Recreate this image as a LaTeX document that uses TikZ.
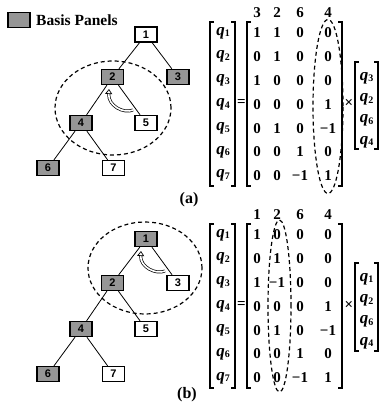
\documentclass[tikz,border=0pt]{standalone}
\usepackage{fontspec}
\setmainfont{Liberation Serif}
\setsansfont{Liberation Sans}
\usetikzlibrary{arrows.meta}
\definecolor{basisgray}{RGB}{150,150,150}

% bold italic q with an upright bold index
\newcommand{\qsym}[1]{{\fontsize{17}{17}\selectfont\bfseries\itshape q}\raisebox{-0.35ex}{\fontsize{10}{10}\selectfont\bfseries #1}}

\tikzset{
  panel/.style={draw, line width=1.3pt, minimum width=22pt, minimum height=15pt,
    inner sep=0pt, font=\sffamily\bfseries\fontsize{11}{11}\selectfont},
  basis/.style={panel, fill=basisgray},
  plain/.style={panel, fill=white},
  edge/.style={line width=0.8pt},
  group/.style={line width=1.2pt, dash pattern=on 4pt off 3pt},
  entry/.style={inner sep=0pt, font=\bfseries\fontsize{15}{15}\selectfont},
  qent/.style={inner sep=0pt},
  label/.style={inner sep=0pt, font=\bfseries\fontsize{16}{16}\selectfont},
  brk/.style={line width=1.4pt},
  turn/.style={line width=0.7pt, double=white, double distance=1.6pt,
    -{Triangle[open, length=5pt, width=7pt]}}
}

% a pair of square brackets: left x, right x, top y, bottom y
\newcommand{\sqbrackets}[4]{%
  \draw[brk] (#1+4,#3) -- (#1,#3) -- (#1,#4) -- (#1+4,#4);
  \draw[brk] (#2-4,#3) -- (#2,#3) -- (#2,#4) -- (#2-4,#4);}

% one row of a 7x4 matrix: prefix, row, y, four entries
\newcommand{\mrow}[7]{%
  \node[entry] (#1-#2-1) at (257,#3) {#4};
  \node[entry] (#1-#2-2) at (277,#3) {#5};
  \node[entry] (#1-#2-3) at (300,#3) {#6};
  \node[entry] (#1-#2-4) at (328,#3) {#7};}

\begin{document}
\begin{tikzpicture}[x=1pt, y=-1pt]
\useasboundingbox (0,0) rectangle (381,409);

% legend
\node[basis] (key) at (19,20) {};
\node[anchor=west, inner sep=0pt, font=\bfseries\fontsize{15.5}{15.5}\selectfont] (keytext) at (36,20) {Basis Panels};

% ---------------- (a) tree ----------------
\draw[group] (113,108) ellipse [x radius=58pt, y radius=47pt];
\node[plain] (a1) at (146,34.5) {1};
\node[basis] (a2) at (112.5,77) {2};
\node[basis] (a3) at (178,77) {3};
\node[basis] (a4) at (81,123) {4};
\node[plain] (a5) at (146,123) {5};
\node[basis] (a6) at (48,168) {6};
\node[plain] (a7) at (113.5,168) {7};
\draw[edge] (a1) -- (a2);
\draw[edge] (a1) -- (a3);
\draw[edge] (a2) -- (a4);
\draw[edge] (a2) -- (a5);
\draw[edge] (a4) -- (a6);
\draw[edge] (a4) -- (a7);
\coordinate (ta) at (133,110);
\coordinate (ha) at (109,89);
\draw[turn] (ta) .. controls (124,114) and (108,106) .. (ha);
\node[label] (capa) at (189,200) {(a)};

% ---------------- (a) matrices ----------------
\foreach \i in {1,...,7} {
  \node[qent] (qa-\i) at (223,{33+23.8*(\i-1)}) {\qsym{\i}};
}
\sqbrackets{210}{235}{22}{186}
\node[entry] (eqa) at (241.5,103) {=};
\node[entry] (ha-1) at (257,13) {3};
\node[entry] (ha-2) at (277,13) {2};
\node[entry] (ha-3) at (300,13) {6};
\node[entry] (ha-4) at (328,13) {4};
\mrow{ma}{1}{33}{1}{1}{0}{0}
\mrow{ma}{2}{56.8}{0}{1}{0}{0}
\mrow{ma}{3}{80.6}{1}{0}{0}{0}
\mrow{ma}{4}{104.4}{0}{0}{0}{1}
\mrow{ma}{5}{128.2}{0}{1}{0}{−1}
\mrow{ma}{6}{152}{0}{0}{1}{0}
\mrow{ma}{7}{175.8}{0}{0}{−1}{1}
\sqbrackets{247}{342}{22}{186}
\draw[group] (328,106.5) ellipse [x radius=15pt, y radius=87pt];
\node[entry] (xa) at (349,103) {×};
\node[qent] (ra-1) at (366.5,78) {\qsym{3}};
\node[qent] (ra-2) at (366.5,99.3) {\qsym{2}};
\node[qent] (ra-3) at (366.5,120.7) {\qsym{6}};
\node[qent] (ra-4) at (366.5,142) {\qsym{4}};
\sqbrackets{355}{378}{62}{149}

% ---------------- (b) tree ----------------
\draw[group] (145,268) ellipse [x radius=57pt, y radius=46pt];
\node[basis] (b1) at (146,239) {1};
\node[basis] (b2) at (112.5,283) {2};
\node[plain] (b3) at (178,283) {3};
\node[basis] (b4) at (81,329) {4};
\node[plain] (b5) at (146,329) {5};
\node[basis] (b6) at (48,374) {6};
\node[plain] (b7) at (113.5,374) {7};
\draw[edge] (b1) -- (b2);
\draw[edge] (b1) -- (b3);
\draw[edge] (b2) -- (b4);
\draw[edge] (b2) -- (b5);
\draw[edge] (b4) -- (b6);
\draw[edge] (b4) -- (b7);
\coordinate (tb) at (165,271);
\coordinate (hb) at (141,251);
\draw[turn] (tb) .. controls (156,275) and (140,267) .. (hb);
\node[label] (capb) at (187,395) {(b)};

% ---------------- (b) matrices ----------------
\foreach \i in {1,...,7} {
  \node[qent] (qb-\i) at (223,{235+23.8*(\i-1)}) {\qsym{\i}};
}
\sqbrackets{210}{235}{224}{388}
\node[entry] (eqb) at (241.5,305) {=};
\node[entry] (hb-1) at (257,215) {1};
\node[entry] (hb-2) at (277,215) {2};
\node[entry] (hb-3) at (300,215) {6};
\node[entry] (hb-4) at (328,215) {4};
\mrow{mb}{1}{235}{1}{0}{0}{0}
\mrow{mb}{2}{258.8}{0}{1}{0}{0}
\mrow{mb}{3}{282.6}{1}{−1}{0}{0}
\mrow{mb}{4}{306.4}{0}{0}{0}{1}
\mrow{mb}{5}{330.2}{0}{1}{0}{−1}
\mrow{mb}{6}{354}{0}{0}{1}{0}
\mrow{mb}{7}{377.8}{0}{0}{−1}{1}
\sqbrackets{247}{342}{224}{388}
\draw[group] (279.5,306) ellipse [x radius=11.5pt, y radius=86pt];
\node[entry] (xb) at (349,305) {×};
\node[qent] (rb-1) at (366.5,279) {\qsym{1}};
\node[qent] (rb-2) at (366.5,300.3) {\qsym{2}};
\node[qent] (rb-3) at (366.5,321.7) {\qsym{6}};
\node[qent] (rb-4) at (366.5,343) {\qsym{4}};
\sqbrackets{355}{378}{263}{351}
\end{tikzpicture}
\end{document}
